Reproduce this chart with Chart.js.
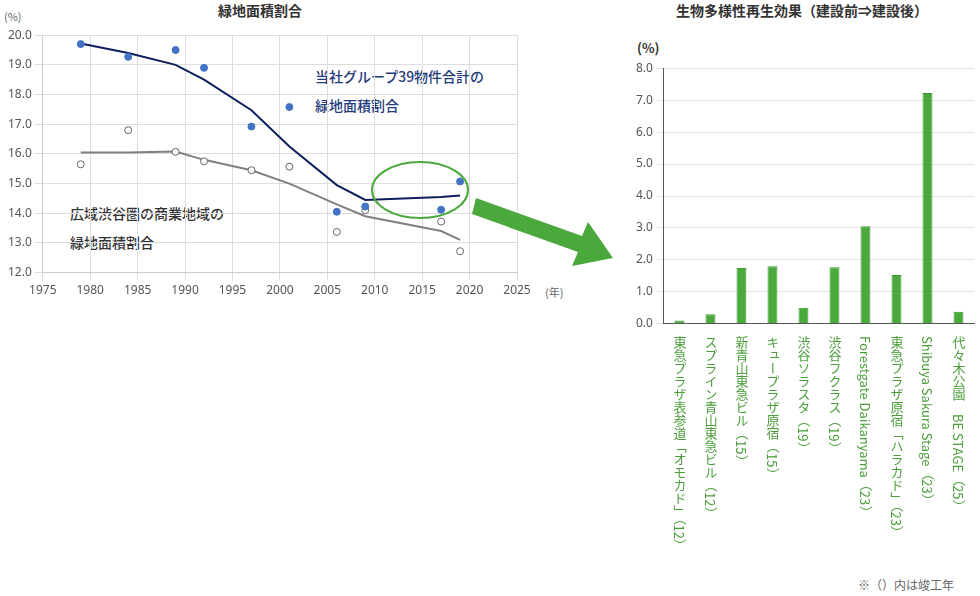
<!DOCTYPE html>
<html><head><meta charset="utf-8">
<script src="https://cdn.jsdelivr.net/npm/chart.js@4"></script>
<style>
body{margin:0;width:980px;height:596px;position:relative;background:#fff;font-family:"Noto Sans CJK JP","Noto Sans",sans-serif;overflow:hidden}
.t{position:absolute;white-space:nowrap}
#lwrap{position:absolute;left:0;top:25px;width:560px;height:276px}
#rwrap{position:absolute;left:615px;top:58px;width:365px;height:276px}
.vl{position:absolute;writing-mode:vertical-rl;color:#4a9e3a;font-size:13px;top:336px;line-height:16px}
</style></head><body>
<div class="t" style="left:218px;top:0;font-size:14px;font-weight:bold;color:#333">緑地面積割合</div>
<div class="t" style="left:4px;top:8px;font-size:11px;color:#666">(%)</div>
<div class="t" style="left:545px;top:284px;font-size:11px;color:#666">(年)</div>
<div class="t" style="left:315px;top:62px;font-size:14px;color:#1f3a7a;line-height:29px;font-weight:500">当社グループ39物件合計の<br>緑地面積割合</div>
<div class="t" style="left:70px;top:199px;font-size:14px;color:#333;line-height:29px;font-weight:500">広域渋谷圏の商業地域の<br>緑地面積割合</div>
<div class="t" style="left:676px;top:0;font-size:14px;font-weight:bold;color:#333">生物多様性再生効果（建設前⇒建設後）</div>
<div class="t" style="left:637px;top:38px;font-size:13px;font-weight:bold;color:#333">(%)</div>
<div class="t" style="left:858px;top:576px;font-size:12px;color:#666">※（）内は竣工年</div>
<div id="lwrap"><canvas id="left"></canvas></div>
<div id="rwrap"><canvas id="right"></canvas></div>
<svg style="position:absolute;left:0;top:0" width="980" height="596">
<ellipse cx="420" cy="190" rx="48" ry="28" fill="none" stroke="#4aa83c" stroke-width="2"/>
<polygon points="476,198 582,236 588,222 613,258 572,266 578,252 472,214" fill="#4aa83c"/>
</svg>
<div id="labels"></div>
<script>
// 緑地面積割合
const groupYears = [1979, 1984, 1989, 1992, 1997, 2001, 2006, 2009, 2017, 2019];
const groupPoints = [19.7, 19.27, 19.5, 18.9, 16.92, 17.58, 14.05, 14.23, 14.12, 15.07];
const groupTrend = [19.72, 19.4, 19.0, 18.5, 17.47, 16.25, 14.95, 14.45, 14.55, 14.6];
const areaPoints = [15.65, 16.8, 16.07, 15.75, 15.45, 15.57, 13.37, 14.1, 13.72, 12.72];
const areaTrend = [16.05, 16.05, 16.08, 15.8, 15.45, 15.0, 14.3, 13.9, 13.4, 13.1];

// 生物多様性再生効果
const buildings = ['東急プラザ表参道「オモカド」（12）', 'スプライン青山東急ビル（12）', '新青山東急ビル（15）', 'キュープラザ原宿（15）', '渋谷ソラスタ（19）', '渋谷フクラス（19）', 'Forestgate Daikanyama（23）', '東急プラザ原宿「ハラカド」（23）', 'Shibuya Sakura Stage（23）', '代々木公園　BE STAGE（25）'];
const effect = [0.1, 0.3, 1.75, 1.8, 0.5, 1.77, 3.05, 1.53, 7.22, 0.38];

const xy = (ys, vals) => ys.map((y, i) => ({x: y, y: vals[i]}));
const tickFont = {family: 'Noto Sans', size: 12};

new Chart(document.getElementById('left'), {
  type: 'scatter',
  data: {
    datasets: [
      {data: xy(groupYears, groupPoints), backgroundColor: '#4472c4', borderColor: '#4472c4', pointRadius: 3.5},
      {data: xy(groupYears, groupTrend), showLine: true, borderColor: '#0d1f5c', borderWidth: 2, pointRadius: 0},
      {data: xy(groupYears, areaPoints), backgroundColor: '#fff', borderColor: '#666', borderWidth: 1, pointRadius: 3.5},
      {data: xy(groupYears, areaTrend), showLine: true, borderColor: '#808080', borderWidth: 2, pointRadius: 0}
    ]
  },
  options: {
    animation: false, responsive: true, maintainAspectRatio: false,
    layout: {padding: {left: 5, right: 43, top: 6}},
    plugins: {legend: {display: false}, tooltip: {enabled: false}},
    scales: {
      x: {min: 1975, max: 2025, ticks: {stepSize: 5, color: '#555', font: tickFont, callback: v => v}, grid: {color: '#ddd'}, border: {color: '#ccc'}},
      y: {min: 12, max: 20, ticks: {stepSize: 1, color: '#555', font: tickFont, callback: v => v.toFixed(1)}, grid: {color: '#ddd'}, border: {color: '#ccc'}}
    }
  }
});

const rightChart = new Chart(document.getElementById('right'), {
  type: 'bar',
  data: {labels: buildings, datasets: [{data: effect, backgroundColor: '#4aa83c', borderColor: '#3a9a30', borderWidth: 1, barPercentage: 0.4}]},
  options: {
    animation: false, responsive: true, maintainAspectRatio: false,
    layout: {padding: {left: 18, right: 6}},
    plugins: {legend: {display: false}, tooltip: {enabled: false}},
    scales: {
      x: {ticks: {display: false}, grid: {display: false}, border: {color: '#555'}},
      y: {min: 0, max: 8, ticks: {stepSize: 1, color: '#555', font: tickFont, callback: v => v.toFixed(1)}, grid: {color: '#e4e4e4'}, border: {color: '#555'}}
    }
  }
});

// vertical category labels placed from the chart's x scale
const xs = rightChart.scales.x;
const box = document.getElementById('labels');
buildings.forEach((b, i) => {
  const d = document.createElement('div');
  d.className = 'vl';
  d.textContent = b;
  d.style.left = (615 + xs.getPixelForValue(i) - 8) + 'px';
  box.appendChild(d);
});
</script>
</body></html>
